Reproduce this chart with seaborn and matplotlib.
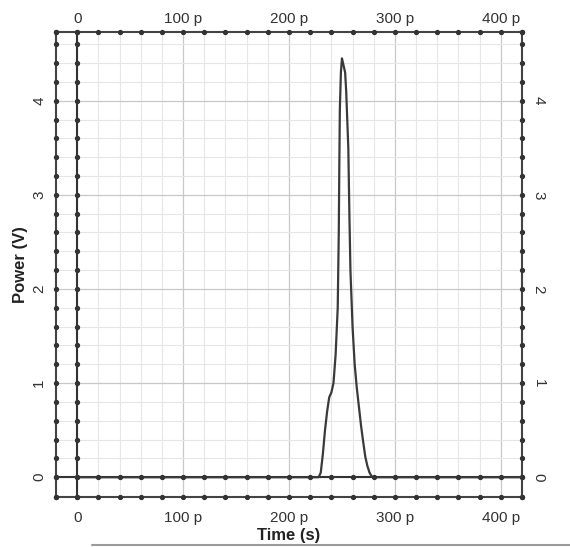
import numpy as np
import pandas as pd
import matplotlib
matplotlib.use("Agg")
import matplotlib.pyplot as plt
from matplotlib.lines import Line2D
import seaborn as sns

# ---- data (time in ps, power in V) ----
time_ps = [0, 228, 230, 232, 234, 236, 238, 240, 242, 244, 246, 247, 247.5, 248, 249,
           250, 251, 252, 253, 254, 255, 256, 257, 258, 260, 262, 264, 266, 268, 270,
           272, 274, 276, 278, 280, 420]
power_v = [0, 0, 0.05, 0.25, 0.5, 0.7, 0.85, 0.9, 1.0, 1.3, 1.8, 2.6, 3.3, 3.9, 4.3,
           4.45, 4.4, 4.35, 4.3, 4.1, 3.8, 3.5, 2.8, 2.2, 1.6, 1.2, 0.95, 0.75, 0.55, 0.38,
           0.22, 0.12, 0.05, 0.01, 0, 0]
x_major_ps = [0, 100, 200, 300, 400]
x_labels = ["0", "100 p", "200 p", "300 p", "400 p"]
y_major = [0, 1, 2, 3, 4]
y_labels = ["0", "1", "2", "3", "4"]

df = pd.DataFrame({"Time (s)": np.array(time_ps) * 1e-12, "Power (V)": power_v})

sns.set_style("white")
plt.rcParams["font.family"] = ["Liberation Sans", "DejaVu Sans"]

fig = plt.figure(figsize=(5.7, 5.47), dpi=100)
ax = fig.add_axes([56 / 570, 1 - 497 / 547, (522 - 56) / 570, (497 - 32) / 547])

sns.lineplot(data=df, x="Time (s)", y="Power (V)", color="#3a3a3a", lw=1.6, ax=ax, zorder=5)

xmin, xmax = -20e-12, 420e-12
ymin, ymax = -0.21, 4.73
ax.set_xlim(xmin, xmax)
ax.set_ylim(ymin, ymax)

xmajor = np.array(x_major_ps) * 1e-12
xminor = np.arange(-20, 421, 20) * 1e-12
yminor = np.arange(0, 4.61, 0.2)
ax.set_xticks(xmajor)
ax.set_xticklabels(x_labels)
ax.set_xticks(xminor, minor=True)
ax.set_yticks(y_major)
ax.set_yticklabels(y_labels)
ax.set_yticks(yminor, minor=True)

ax.grid(which="major", color="#c8c8c8", lw=0.9)
ax.grid(which="minor", color="#e6e6e6", lw=0.8)
ax.set_axisbelow(True)

ax.tick_params(which="both", length=0, labelsize=11, colors="#333333")
ax.tick_params(axis="x", pad=10)
ax.tick_params(axis="y", right=True, labelright=True, pad=7)
for t in ax.yaxis.get_major_ticks():
    t.label1.set_rotation(90)
    t.label1.set_va("center")
    t.label2.set_rotation(270)
    t.label2.set_va("center")

# top axis labels
top = ax.secondary_xaxis("top")
top.set_xticks(xmajor)
top.set_xticklabels(x_labels)
top.tick_params(length=0, labelsize=11, colors="#333333", pad=4)
top.spines["top"].set_visible(False)

for s in ax.spines.values():
    s.set_color("#444444")
    s.set_linewidth(1.5)

# zero lines
ax.axvline(0, color="#333333", lw=1.5, zorder=4)
ax.axhline(0, color="#333333", lw=1.5, zorder=4)

# dot tick marks
xdots = xminor
ydots = np.concatenate([[ymin], yminor, [ymax]])
kw = dict(ls="none", marker="o", ms=2.8, color="#333333", clip_on=False, zorder=6)
ax.plot(xdots, np.zeros_like(xdots), transform=ax.get_xaxis_transform(), **kw)
ax.plot(xdots, np.ones_like(xdots), transform=ax.get_xaxis_transform(), **kw)
ax.plot(np.zeros_like(ydots), ydots, transform=ax.get_yaxis_transform(), **kw)
ax.plot(np.ones_like(ydots), ydots, transform=ax.get_yaxis_transform(), **kw)
ax.plot(np.zeros_like(ydots), ydots, **kw)
ax.plot(xdots, np.zeros_like(xdots), **kw)

ax.set_xlabel("Time (s)", fontsize=12, fontweight="bold", labelpad=2, color="#222222")
ax.set_ylabel("Power (V)", fontsize=12, fontweight="bold", labelpad=3, color="#222222")

fig.add_artist(Line2D([92 / 570, 1.0], [1 - 545 / 547] * 2, color="#9a9a9a", lw=1.5,
                      transform=fig.transFigure))

fig.savefig("out.png", dpi=100, facecolor="white")
